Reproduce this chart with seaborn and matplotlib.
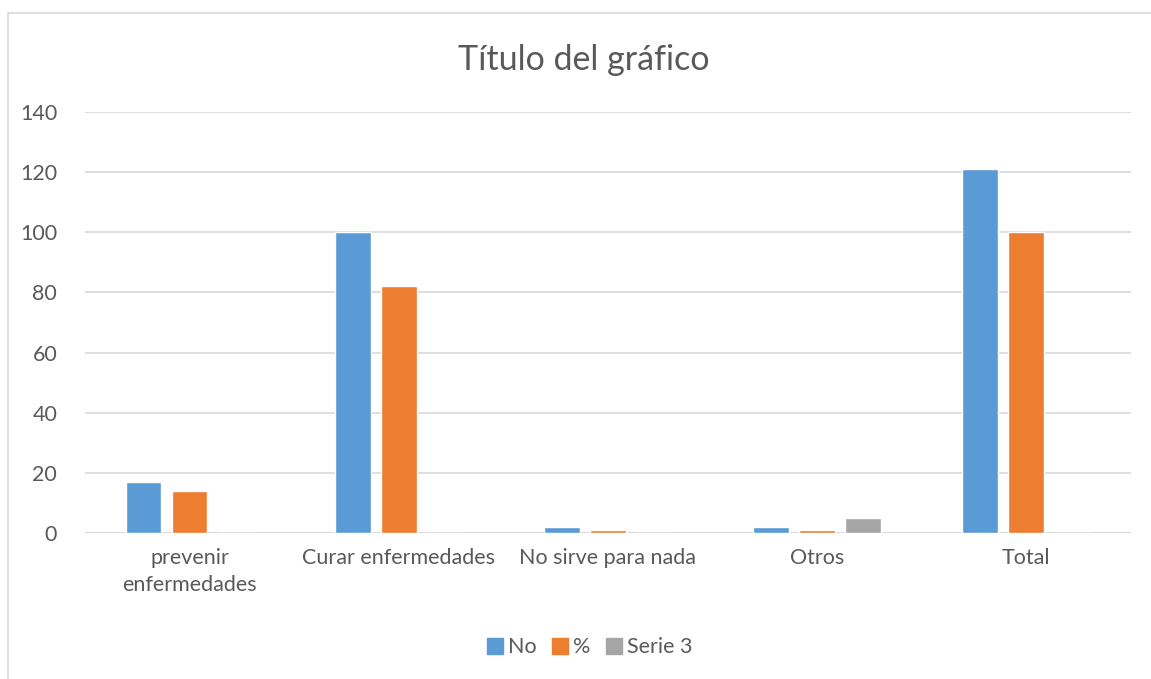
import pandas as pd
import numpy as np
import seaborn as sns
import matplotlib.pyplot as plt
from matplotlib.lines import Line2D

# data
categories = ["prevenir\nenfermedades", "Curar enfermedades", "No sirve para nada", "Otros", "Total"]
series_names = ["No", "%", "Serie 3"]
no_vals = [17, 100, 2, 2, 121]
pct_vals = [14, 82, 1, 1, 100]
serie3_vals = [0, 0, 0, 5, 0]
y_ticks = [0, 20, 40, 60, 80, 100, 120, 140]

colors = ["#5B9BD5", "#ED7D31", "#A5A5A5"]
text_color = "#595959"
grid_color = "#D9D9D9"

df = pd.DataFrame({
    "categoria": categories * 3,
    "serie": np.repeat(series_names, len(categories)),
    "valor": no_vals + pct_vals + serie3_vals,
})

sns.set_style("white")
plt.rcParams['font.family'] = ['Lato', 'DejaVu Sans']

fig = plt.figure(figsize=(11.51, 6.79), dpi=100)
ax = fig.add_axes([0.0738, 0.215, 0.9088, 0.62])

sns.barplot(data=df, x="categoria", y="valor", hue="serie", hue_order=series_names,
            order=categories, palette=colors, width=0.66, gap=0.22,
            saturation=1, ax=ax, legend=False)

ax.set_ylim(0, 140)
ax.set_xlim(-0.5, len(categories) - 0.5)
ax.set_yticks(y_ticks)
ax.yaxis.grid(True, color=grid_color, linewidth=1.2)
ax.set_axisbelow(True)
for s in ax.spines.values():
    s.set_visible(False)
ax.axhline(0, color=grid_color, linewidth=1.5, zorder=0.5)
ax.tick_params(axis="y", length=0, pad=20, labelsize=15.5, labelcolor=text_color)
ax.tick_params(axis="x", length=0, pad=11, labelsize=15.5, labelcolor=text_color)
for lbl in ax.get_xticklabels():
    lbl.set_linespacing(1.45)
ax.set_xlabel("")
ax.set_ylabel("")

fig.text(0.507, 0.912, "Título del gráfico", ha="center", va="center",
         fontsize=24.5, color=text_color)

handles = [Line2D([], [], marker="s", linestyle="", markersize=11,
                  markerfacecolor=c, markeredgecolor=c) for c in colors]
fig.legend(handles, series_names, loc="center", bbox_to_anchor=(0.511, 0.047),
           ncol=3, frameon=False, fontsize=15.5, labelcolor=text_color,
           handletextpad=0.1, columnspacing=0.6, handlelength=1.0)

# outer chart frame (cut at right and bottom)
fig.add_artist(Line2D([8 / 1151, 1], [1 - 13 / 679, 1 - 13 / 679],
                      transform=fig.transFigure, color=grid_color, linewidth=1.2))
fig.add_artist(Line2D([8 / 1151, 8 / 1151], [0, 1 - 13 / 679],
                      transform=fig.transFigure, color=grid_color, linewidth=1.2))

fig.savefig("out.png", dpi=100, facecolor="white")
